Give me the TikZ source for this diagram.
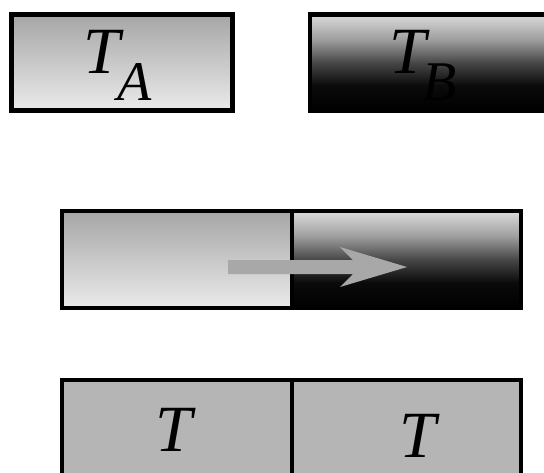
\documentclass[tikz,border=0pt]{standalone}
\usepackage{fontspec}
\setmainfont{Liberation Serif}

% light fade: mid grey at the top to near white at the bottom
\pgfdeclareverticalshading{lightfade}{100bp}{%
  color(0bp)=(black!8); color(25bp)=(black!8);
  color(75bp)=(black!35); color(100bp)=(black!35)}
% dark fade: pale grey at the top to black at the bottom
\pgfdeclareverticalshading{darkfade}{100bp}{%
  color(0bp)=(black); color(25bp)=(black); color(38bp)=(black!96);
  color(50bp)=(black!72); color(62bp)=(black!38); color(75bp)=(black!14);
  color(100bp)=(black!14)}

\tikzset{
  cell/.style={draw=black, line width=4.5pt, rectangle, inner sep=0pt},
  warm/.style={cell, shade, shading=lightfade},
  cold/.style={cell, shade, shading=darkfade},
  even/.style={cell, fill=black!29},
  bigsym/.style={inner sep=0pt, anchor=base, font=\fontsize{66}{66}\selectfont\itshape},
  subsym/.style={inner sep=0pt, anchor=base, font=\fontsize{56}{56}\selectfont\itshape},
  flow/.style={fill=black!34, draw=none}
}

\begin{document}
\begin{tikzpicture}[x=1pt, y=-1pt]
  \useasboundingbox (0,0) rectangle (544,472);
  \clip (0,0) rectangle (544,472);

  % two separate bodies
  \node[warm, minimum width=221pt, minimum height=96pt] (bodyA) at (122,62.5) {};
  \node[cold, minimum width=250pt, minimum height=96pt] (bodyB) at (435,62.5) {};
  \node[bigsym] (TA) at (102,73) {T};
  \node[subsym] (subA) at (135,100) {A};
  \node[bigsym] (TB) at (408,73) {T};
  \node[subsym] (subB) at (440,100) {B};

  % bodies in contact
  \node[warm, minimum width=230pt, minimum height=97pt] (left) at (177,259.5) {};
  \node[cold, minimum width=229pt, minimum height=97pt] (right) at (406.5,259.5) {};
  \fill[flow] (228,260) -- (353,260) -- (340,247) -- (407,267)
              -- (340,287) -- (353,274) -- (228,274) -- cycle;

  % equilibrium
  \node[even, minimum width=230pt, minimum height=100pt] (eqL) at (177,430) {};
  \node[even, minimum width=229pt, minimum height=100pt] (eqR) at (406.5,430) {};
  \node[bigsym] (TL) at (174,451) {T};
  \node[bigsym] (TR) at (418,457) {T};
\end{tikzpicture}
\end{document}
